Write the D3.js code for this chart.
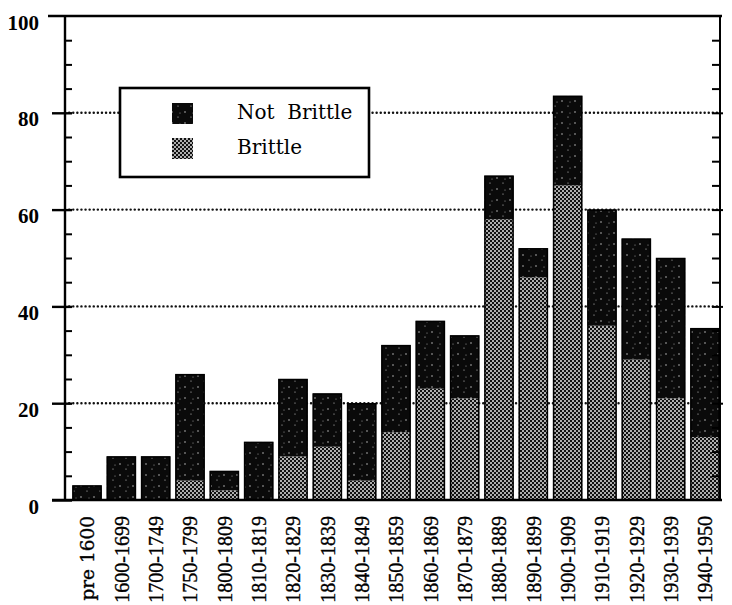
<!DOCTYPE html>
<html>
<head>
<meta charset="utf-8">
<script src="https://cdn.jsdelivr.net/npm/d3@7"></script>
<style>
  html, body { margin: 0; padding: 0; background: #fff; }
  svg { display: block; }
</style>
</head>
<body>
<svg id="chart" width="732" height="605"></svg>
<script>
const categories = ["pre 1600","1600-1699","1700-1749","1750-1799","1800-1809","1810-1819","1820-1829","1830-1839","1840-1849","1850-1859","1860-1869","1870-1879","1880-1889","1890-1899","1900-1909","1910-1919","1920-1929","1930-1939","1940-1950"];
const brittle    = [0, 0, 0, 4, 2, 0, 9, 11, 4, 14, 23, 21, 58, 46, 65, 36, 29, 21, 13];
const notBrittle = [3, 9, 9, 22, 4, 12, 16, 11, 16, 18, 14, 13, 9, 6, 18.5, 24, 25, 29, 22.5];
const yTicks = [0, 20, 40, 60, 80, 100];
const seriesNames = ["Not  Brittle", "Brittle"];

(function () {
const svg = d3.select("#chart");
const mLeft = 65, mRight = 720, mTop = 16, mBottom = 500;

const x = d3.scaleBand().domain(categories).range([69, 723]).paddingInner(0.15).paddingOuter(0.1);
const y = d3.scaleLinear().domain([0, 100]).range([mBottom, mTop]);

// patterns
const defs = svg.append("defs");
const pB = defs.append("pattern").attr("id", "pBrittle").attr("patternUnits", "userSpaceOnUse")
  .attr("width", 4).attr("height", 4);
pB.append("rect").attr("width", 4).attr("height", 4).attr("fill", "#111");
pB.append("circle").attr("cx", 1).attr("cy", 1).attr("r", 0.95).attr("fill", "#f2f2f2");
pB.append("circle").attr("cx", 3).attr("cy", 3).attr("r", 0.95).attr("fill", "#f2f2f2");

const pN = defs.append("pattern").attr("id", "pNot").attr("patternUnits", "userSpaceOnUse")
  .attr("width", 13).attr("height", 11);
pN.append("rect").attr("width", 13).attr("height", 11).attr("fill", "#0a0a0a");
pN.append("circle").attr("cx", 3).attr("cy", 2).attr("r", 0.7).attr("fill", "#ddd");
pN.append("circle").attr("cx", 9).attr("cy", 7).attr("r", 0.6).attr("fill", "#ccc");
pN.append("circle").attr("cx", 11).attr("cy", 3).attr("r", 0.5).attr("fill", "#bbb");

// dotted gridlines
svg.append("g").selectAll("line").data(yTicks.filter(d => d > 0 && d < 100)).join("line")
  .attr("x1", mLeft).attr("x2", mRight).attr("y1", d => y(d)).attr("y2", d => y(d))
  .attr("stroke", "#111").attr("stroke-width", 2.4)
  .attr("stroke-dasharray", "0.1 4").attr("stroke-linecap", "round");

// stacked bars
const rows = categories.map((c, i) => ({ c, b: brittle[i], n: notBrittle[i] }));
const stack = d3.stack().keys(["b", "n"])(rows);
const fills = { b: "url(#pBrittle)", n: "url(#pNot)" };
svg.append("g").selectAll("g").data(stack).join("g")
  .attr("fill", d => fills[d.key])
  .selectAll("rect").data(d => d).join("rect")
  .attr("x", d => x(d.data.c))
  .attr("width", x.bandwidth())
  .attr("y", d => y(d[1]))
  .attr("height", d => y(d[0]) - y(d[1]));
// outlines
svg.append("g").selectAll("rect").data(rows).join("rect")
  .attr("x", d => x(d.c) + 0.5).attr("width", x.bandwidth() - 1)
  .attr("y", d => y(d.b + d.n) + 0.5).attr("height", d => y(0) - y(d.b + d.n) - 0.5)
  .attr("fill", "none").attr("stroke", "#000").attr("stroke-width", 1.5);

// axes lines
const axisG = svg.append("g").attr("stroke", "#000");
axisG.append("line").attr("x1", mLeft).attr("x2", mLeft).attr("y1", mTop).attr("y2", mBottom + 1).attr("stroke-width", 2.4);
axisG.append("line").attr("x1", mRight).attr("x2", mRight).attr("y1", mTop).attr("y2", mBottom + 1).attr("stroke-width", 2);
axisG.append("line").attr("x1", 48).attr("x2", mRight + 2).attr("y1", mTop).attr("y2", mTop).attr("stroke-width", 2.4);
axisG.append("line").attr("x1", 52).attr("x2", mRight + 2).attr("y1", mBottom).attr("y2", mBottom).attr("stroke-width", 2.6);

const minor = d3.range(0, 101, 5).filter(d => d % 20 !== 0);
const leftMajor = svg.append("g").attr("transform", `translate(${mLeft},0)`)
  .call(d3.axisLeft(y).tickValues(yTicks).tickSize(13).tickFormat(d3.format("d")));
leftMajor.select(".domain").remove();
leftMajor.selectAll(".tick line").attr("stroke-width", 2.4).attr("x2", -13).attr("x1", 7);
leftMajor.selectAll(".tick text")
  .attr("x", -26).attr("dy", "0.62em").attr("font-family", "Liberation Serif, serif").attr("font-weight", "bold")
  .attr("font-size", 21).attr("fill", "#000");
leftMajor.selectAll(".tick").filter(d => d === 100).select("line").remove();

const leftMinor = svg.append("g").attr("transform", `translate(${mLeft},0)`)
  .call(d3.axisRight(y).tickValues(minor).tickSize(7).tickFormat(""));
leftMinor.select(".domain").remove();
leftMinor.selectAll(".tick line").attr("stroke-width", 2);

const rightMinor = svg.append("g").attr("transform", `translate(${mRight},0)`)
  .call(d3.axisLeft(y).tickValues(minor).tickSize(8).tickFormat(""));
rightMinor.select(".domain").remove();
rightMinor.selectAll(".tick line").attr("stroke-width", 2);
const rightMajor = svg.append("g").attr("transform", `translate(${mRight},0)`)
  .call(d3.axisRight(y).tickValues(yTicks.filter(d => d > 0 && d < 100)).tickSize(3).tickFormat(""));
rightMajor.select(".domain").remove();
rightMajor.selectAll(".tick line").attr("stroke-width", 2).attr("x1", -8);

// category labels
svg.append("g").selectAll("text").data(categories).join("text")
  .attr("transform", d => `translate(${x(d) + x.bandwidth() / 2},516) rotate(-90)`)
  .attr("dy", "0.36em")
  .attr("text-anchor", "end")
  .attr("font-family", d => /^[a-z]/.test(d) ? "DejaVu Serif, serif" : "Liberation Serif, serif")
  .attr("font-size", d => /^[a-z]/.test(d) ? 18.5 : 20)
  .attr("fill", "#000")
  .attr("stroke", "#000").attr("stroke-width", 0.35)
  .text(d => d);

// legend
const lg = svg.append("g");
lg.append("rect").attr("x", 120).attr("y", 88).attr("width", 249).attr("height", 89)
  .attr("fill", "#fff").attr("stroke", "#000").attr("stroke-width", 2.6);
const legFills = ["url(#pNot)", "url(#pBrittle)"];
seriesNames.forEach((name, i) => {
  lg.append("rect").attr("x", 172).attr("y", 103 + i * 35).attr("width", 21).attr("height", 21)
    .attr("fill", legFills[i]);
  lg.append("text").attr("x", 237).attr("y", 119 + i * 35)
    .attr("font-family", "DejaVu Serif, serif").attr("font-size", 20)
    .attr("fill", "#000").style("white-space", "pre").text(name);
});
})();
</script>
</body>
</html>
